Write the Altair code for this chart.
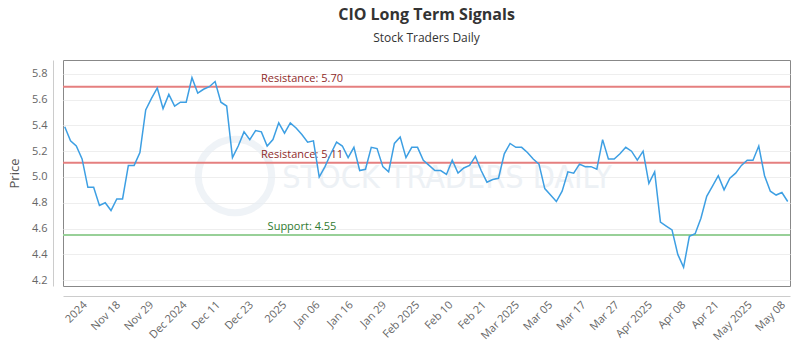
import altair as alt
import pandas as pd

# ---- data ----
prices = [
    5.39, 5.28, 5.24, 5.14, 4.92, 4.92, 4.78, 4.80, 4.74, 4.83, 4.83, 5.09, 5.09, 5.19, 5.52, 5.61, 5.69, 5.53, 5.64, 5.55, 5.58, 5.58, 5.77, 5.65, 5.68, 5.70,
    5.74, 5.58, 5.55, 5.15, 5.24, 5.35, 5.29, 5.36, 5.35, 5.24, 5.29, 5.42, 5.34, 5.42, 5.38, 5.33, 5.27, 5.28, 5.00, 5.08, 5.18, 5.27, 5.24, 5.15, 5.23,
    5.05, 5.06, 5.23, 5.22, 5.08, 5.04, 5.26, 5.31, 5.15, 5.23, 5.23, 5.13, 5.09, 5.05, 5.05, 5.02, 5.13, 5.03, 5.07, 5.09, 5.16, 5.05, 4.96, 4.98, 4.99,
    5.18, 5.26, 5.23, 5.23, 5.19, 5.14, 5.10, 4.91, 4.86, 4.81, 4.89, 5.04, 5.03, 5.10, 5.08, 5.08, 5.06, 5.29, 5.14, 5.14, 5.18, 5.23, 5.20, 5.13, 5.20,
    4.95, 5.04, 4.65, 4.62, 4.59, 4.40, 4.30, 4.54, 4.56, 4.68, 4.85, 4.93, 5.01, 4.90, 4.99, 5.03, 5.09, 5.13, 5.13, 5.24, 5.01, 4.89, 4.86, 4.88, 4.81,
]
x_labels = ["2024", "Nov 18", "Nov 29", "Dec 2024", "Dec 11", "Dec 23", "2025", "Jan 06",
            "Jan 16", "Jan 29", "Feb 2025", "Feb 10", "Feb 21", "Mar 2025", "Mar 05",
            "Mar 17", "Mar 27", "Apr 2025", "Apr 08", "Apr 21", "May 2025", "May 08"]
y_ticks = [4.2, 4.4, 4.6, 4.8, 5.0, 5.2, 5.4, 5.6, 5.8]
level_values = [5.70, 5.11, 4.55]
level_names = ["Resistance", "Resistance", "Support"]
level_line_colors = ["#e57f7f", "#e57f7f", "#98d098"]
level_text_colors = ["#8e2a2a", "#8e2a2a", "#2f7a2f"]

# ---- tables ----
df = pd.DataFrame({"idx": list(range(len(prices))), "price": prices})
levels = pd.DataFrame({
    "level": level_values,
    "label": [f"{n}: {v:.2f}" for n, v in zip(level_names, level_values)],
    "lc": level_line_colors,
    "tc": level_text_colors,
})

n = len(prices)
T0, TSTEP = 3.5, 5.75
tick_pos = [T0 + TSTEP * i for i in range(len(x_labels))]
label_arr = "[" + ",".join(f'"{l}"' for l in x_labels) + "]"
label_expr = f"{label_arr}[round((datum.value - {T0}) / {TSTEP})]"

FONT = "Open Sans"
x_scale = alt.Scale(domain=[-0.3, n - 1 + 0.4], nice=False, zero=False)
y_scale = alt.Scale(domain=[4.155, 5.907], nice=False, zero=False)

x_axis = alt.Axis(values=tick_pos, labelExpr=label_expr,
                  labelAngle=-45, labelAlign="right", labelBaseline="middle",
                  ticks=False, grid=False, offset=10, domainColor="#cccccc",
                  labelColor="#666666", labelFontSize=11, labelFont=FONT,
                  labelPadding=7, labelOverlap=False, labelFlush=False)
y_axis = alt.Axis(values=y_ticks, format=".1f", tickCount=len(y_ticks),
                  ticks=False, offset=10, domainColor="#cccccc",
                  gridColor="#eeeeee", labelColor="#666666", labelFontSize=11,
                  labelFont=FONT, labelPadding=6, labelOverlap=False,
                  titleFont=FONT, titleFontSize=13,
                  titleFontWeight="normal", titleColor="#555555", titlePadding=10)

wm_circle = alt.Chart(pd.DataFrame({"k": [0]})).mark_point(
    shape="circle", size=5400, filled=False, stroke="#e9eef4", strokeWidth=7
).encode(x=alt.value(172), y=alt.value(116))

wm_text = alt.Chart(pd.DataFrame({"t": ["STOCK TRADERS DAILY"]})).mark_text(
    font="Liberation Sans Narrow, DejaVu Sans Condensed, Open Sans", fontSize=32,
    color="#edf1f5", align="center", baseline="middle"
).encode(x=alt.value(384), y=alt.value(118), text="t:N")

rules = alt.Chart(levels).mark_rule(strokeWidth=2).encode(
    y=alt.Y("level:Q", scale=y_scale, axis=y_axis, title="Price"),
    color=alt.Color("lc:N", scale=None))

texts = alt.Chart(levels).mark_text(
    font=FONT, fontSize=11, align="center", baseline="alphabetic", dy=-5
).encode(x=alt.value(239), y=alt.Y("level:Q", scale=y_scale, axis=y_axis, title="Price"),
         text="label:N", color=alt.Color("tc:N", scale=None))

line = alt.Chart(df).mark_line(color="#3d9fe3", strokeWidth=1.5).encode(
    x=alt.X("idx:Q", scale=x_scale, title=None, axis=x_axis),
    y=alt.Y("price:Q", scale=y_scale, axis=y_axis, title="Price"))

chart = alt.layer(wm_circle, wm_text, rules, texts, line).properties(
    width=727, height=226,
    title=alt.TitleParams(
        text="CIO Long Term Signals", subtitle="Stock Traders Daily",
        anchor="middle", font=FONT, fontSize=16, fontWeight="bold", color="#333333",
        subtitleFont=FONT, subtitleFontSize=12, subtitleColor="#333333",
        offset=16, subtitlePadding=10),
    padding={"left": 63, "top": 60, "right": 10, "bottom": 64},
    autosize=alt.AutoSizeParams(type="none"),
).configure_view(stroke="#888888", strokeWidth=1)

chart.save("out.html", embed_options={"renderer": "svg", "actions": False})
